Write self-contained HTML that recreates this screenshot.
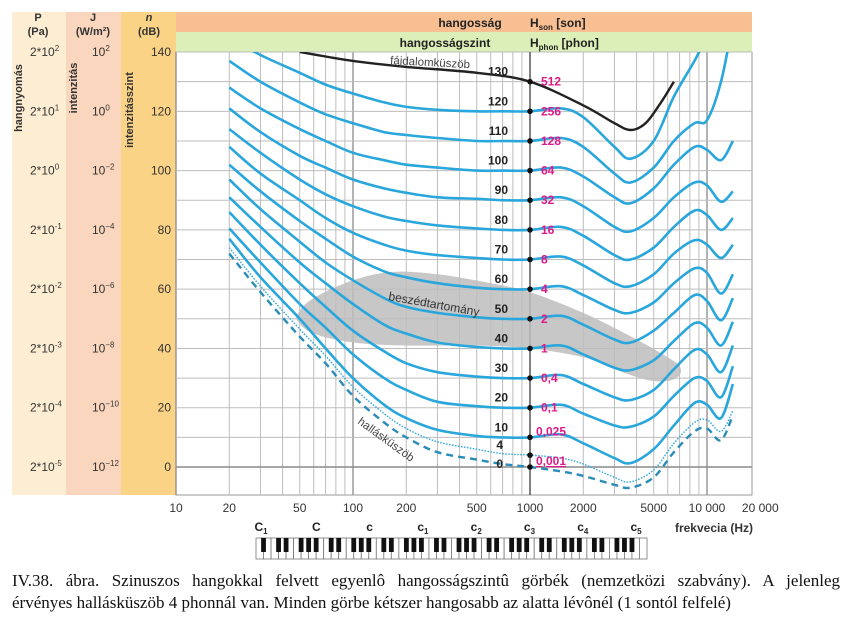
<!DOCTYPE html>
<html><head><meta charset="utf-8">
<style>
html,body{margin:0;padding:0;background:#fff;}
svg{display:block;font-family:"Liberation Sans",sans-serif;}
.cap{position:absolute;left:12px;width:828px;font-family:"Liberation Serif",serif;font-size:17px;color:#111;text-align:justify;text-align-last:justify;white-space:nowrap;}
</style></head>
<body>
<div style="position:relative;width:852px;height:640px;overflow:hidden">
<svg id="chart" width="852" height="640" viewBox="0 0 852 640"></svg>
<div class="cap" style="top:571px">IV.38. ábra. Szinuszos hangokkal felvett egyenlô hangosságszintû görbék (nemzetközi szabvány). A jelenleg</div>
<div class="cap" style="top:593px;text-align-last:left">érvényes hallásküszöb 4 phonnál van. Minden görbe kétszer hangosabb az alatta lévônél (1 sontól felfelé)</div>
</div>
<script>
// ---- data ----
const freqs = [20,30,50,70,100,150,200,300,500,700,1000,1500,2000,3000,3700,5000,6500,8500,10000,12000,14000];
const phonLevels = [120,110,100,90,80,70,60,50,40,30,20,10,4,0];
const curve120 = [145,139,133,129,126,123,121.5,120.5,120,120,120,121,118,108,104,110,125,137,145,150,155];
const curve110 = [137,130,123,119,116,113,112,111,110,110,110,111,108,99,96,101,110,116,117,130,150];
const curve100 = [128,121,114,110,106,103.5,102,101,100,100,100,101,98,91,89,94,102,108,107,103.5,110];
const curve90  = [121,113,105,101,97,94,92.5,91,90.5,90,90,91,88,81,79.5,84,91,96,95,89.5,93];
const curve80  = [114,106,97,92,88,84.5,83,81.5,80.5,80,80,81,78,71.5,70,74,81,86.5,85,80,84];
const curve70  = [108,99,90,84,79,75,73,71.5,70.5,70,70,71,68,62,61,65,72,76.5,75,70.5,75];
const curve60  = [102,93,83,77,71,66,64,62,60.5,60,60,61,58,53,52,55.5,62,67,65.5,58.5,65];
const curve50  = [97,87,76,69,63,57,54,52,50.5,50,50,51,48,43,42,46,52,58,56,49.5,57];
const curve40  = [91,81,69,62,55,48,45,42,40.5,40,40,41,38,33.5,32.7,36,42.5,48.5,47,41,49];
const curve30  = [86,75,62,54,46,39,35,32,30.5,30,30,31,28,23.5,22.6,26,33,39.5,38,32,41];
const curve20  = [80.5,69,55,47,38,30,26,22,20.5,20,20,21,18,14,13.6,17,24,30,29,23.5,34];
const curve10  = [77,64,50,40,30,21,16.5,12.5,10.5,10,10,11,8,3,1.3,6,14,21.6,21,16.5,28];
const curve4   = [74,61,46.5,37.5,27,18,13,8.5,6,4.5,4,3,1,-3.5,-5,-1,8,15,15.9,12,19];
const curve0   = [72,59,44,35,24,15,10,5,2.5,1,0,-1.5,-3,-6,-7,-3.5,5,12,13,9,17.5];
const painFreqs = [50,70,100,200,500,1000,2000,3000,3700,4500,5500,6500];
const painLevels = [140,138.5,137,135,133,130,122,116,113.7,116,123,130];
const speechTopF = [49,60,100,166,300,600,1000,2000,4000,6000,7000];
const speechTopDb = [52,57,63,65.8,65,62,59,52,43,37,34];
const speechBotF = [7000,6000,4500,3000,2000,1000,500,200,100,60,49];
const speechBotDb = [31,29,29.5,33,37,40,41,41,42,45,49];
const phonLabels = ["120","110","100","90","80","70","60","50","40","30","20","10","4","0"];
const soneLabels = ["256","128","64","32","16","8","4","2","1","0,4","0,1","0,025","","0,001"];
const xTickValues = [10,20,50,100,200,500,1000,2000,5000,10000,20000];
const xTickLabels = ["10","20","50","100","200","500","1000","2000","5000","10 000","20 000"];
const dbTicks = [140,120,100,80,60,40,20,0];
const pTickExp = ["2","1","0","-1","-2","-3","-4","-5"];
const jTickExp = ["2","0","-2","-4","-6","-8","-10","-12"];
const noteNames = [["C","1"],["C",""],["c",""],["c","1"],["c","2"],["c","3"],["c","4"],["c","5"]];
const noteFreqs = [32.7,65.4,130.8,261.6,523.3,1046.5,2093,4186];

// ---- scales ----
const PL=176, PT=52, PR=752, PB=495;
const xS = f => 176 + 177*Math.log10(f/10);
const yS = db => 467 - 2.964*db;
const NS="http://www.w3.org/2000/svg";
const svg=document.getElementById('chart');
function mk(tag, attrs, parent){const e=document.createElementNS(NS,tag);for(const k in attrs)e.setAttribute(k,attrs[k]);(parent||svg).appendChild(e);return e;}
function txt(str, attrs, parent){const e=mk('text',attrs,parent);e.textContent=str;return e;}
function smooth(pts, closed){
  const n=pts.length; let d='M'+pts[0][0].toFixed(1)+','+pts[0][1].toFixed(1);
  const g=i=> closed ? pts[(i+n)%n] : pts[Math.max(0,Math.min(n-1,i))];
  const m = closed ? n : n-1;
  for(let i=0;i<m;i++){const p0=g(i-1),p1=g(i),p2=g(i+1),p3=g(i+2);
    const c1=[p1[0]+(p2[0]-p0[0])/6,p1[1]+(p2[1]-p0[1])/6];
    const c2=[p2[0]-(p3[0]-p1[0])/6,p2[1]-(p3[1]-p1[1])/6];
    d+='C'+c1[0].toFixed(1)+','+c1[1].toFixed(1)+' '+c2[0].toFixed(1)+','+c2[1].toFixed(1)+' '+p2[0].toFixed(1)+','+p2[1].toFixed(1);}
  return d+(closed?'Z':'');
}

let r;
r=mk('rect',{x:12,y:12,width:54,height:483,fill:'#fdeed3'});
 
r=mk('rect',{x:66,y:12,width:55,height:483,fill:'#f9d6bd'});
 
r=mk('rect',{x:121,y:12,width:55,height:483,fill:'#fbd387'});
 
r=mk('rect',{x:176,y:12,width:576,height:20,fill:'#f8bf92'});
 
r=mk('rect',{x:176,y:32,width:576,height:20,fill:'#dcefb8'});
 

let t;
t=txt('hangosság',{x:470,y:27,'font-size':12,'font-weight':'bold','text-anchor':'middle',fill:'#222'});
 
t=mk('text',{x:530,y:27,'font-size':12,'font-weight':'bold',fill:'#222'});
t.innerHTML='H<tspan font-size="8" dy="3">son</tspan><tspan dy="-3"> [son]</tspan>';
 
t=txt('hangosságszint',{x:445,y:47,'font-size':12,'font-weight':'bold','text-anchor':'middle',fill:'#222'});
 
t=mk('text',{x:530,y:47,'font-size':12,'font-weight':'bold',fill:'#222'});
t.innerHTML='H<tspan font-size="8" dy="3">phon</tspan><tspan dy="-3"> [phon]</tspan>';
 

[['P','(Pa)',38],['J','(W/m²)',93],['n','(dB)',149]].forEach((h,i)=>{
  t=txt(h[0],{x:h[2],y:21,'font-size':11,'font-weight':'bold','text-anchor':'middle',fill:'#333','font-style':i==2?'italic':'normal'});
   
  t=txt(h[1],{x:h[2],y:35,'font-size':11,'font-weight':'bold','text-anchor':'middle',fill:'#333'});
   
});
[['hangnyomás',22,98],['intenzitás',77,88],['intenzitásszint',133,110]].forEach(v=>{
  t=txt(v[0],{x:0,y:0,'font-size':11,'font-weight':'bold','text-anchor':'middle',fill:'#333',transform:`translate(${v[1]},${v[2]}) rotate(-90)`});
   
});
dbTicks.forEach((db,i)=>{
  const y=yS(db)+4;
  t=txt(String(db),{x:171,y:y,'font-size':12,'text-anchor':'end',fill:'#333'});
   
  t=mk('text',{x:30,y:y,'font-size':12,fill:'#333'});
  t.innerHTML='2*10<tspan font-size="8" dy="-5">'+pTickExp[i]+'</tspan>';
   
  t=mk('text',{x:92,y:y,'font-size':12,fill:'#333'});
  t.innerHTML='10<tspan font-size="8" dy="-5">'+jTickExp[i].replace('-','−')+'</tspan>';
   
});

r=mk('rect',{x:PL,y:PT,width:PR-PL,height:PB-PT,fill:'#fff',stroke:'#999','stroke-width':1});
 
const defs=mk('defs',{});
const cp=mk('clipPath',{id:'clip'},defs); mk('rect',{x:PL,y:PT,width:PR-PL,height:PB-PT},cp);
const grid=mk('g',{});  
[10,100,1000,10000].forEach(dec=>{for(let m=1;m<10;m++){const x=xS(dec*m); if(x>PR-1)continue;
  const l=mk('line',{x1:x,x2:x,y1:PT,y2:PB,stroke:m==1?'#8a8a8a':'#bdbdbd','stroke-width':m==1?1.3:1},grid);
   }});
for(let db=0;db<=140;db+=10){const y=yS(db);
  const l=mk('line',{x1:PL,x2:PR,y1:y,y2:y,stroke:db==0?'#8a8a8a':'#bdbdbd','stroke-width':db==0?1.5:1},grid);
   }
const l1k=mk('line',{x1:xS(1000),x2:xS(1000),y1:PT,y2:PB,stroke:'#444','stroke-width':1.2},grid);
 

const sp=[]; speechTopF.forEach((f,i)=>sp.push([xS(f),yS(speechTopDb[i])])); speechBotF.forEach((f,i)=>sp.push([xS(f),yS(speechBotDb[i])]));
const spe=mk('path',{d:smooth(sp,true),fill:'#bdbdbd','fill-opacity':0.85});
 

const curves=[curve120,curve110,curve100,curve90,curve80,curve70,curve60,curve50,curve40,curve30,curve20,curve10,curve4,curve0];
const cg=mk('g',{'clip-path':'url(#clip)'});
 
curves.forEach((c,i)=>{
  const pts=freqs.map((f,j)=>[xS(f),yS(c[j])]);
  const lvl=phonLevels[i];
  const a={d:smooth(pts,false),fill:'none',stroke:'#29a6db','stroke-width':2.6,'stroke-linejoin':'round'};
  if(lvl==4){a['stroke-width']=1.4;a['stroke-dasharray']='1.5 1.5';}
  if(lvl==0){a['stroke']='#2a8cb8';a['stroke-width']=2.4;a['stroke-dasharray']='7 5';}
  const p=mk('path',a,cg);
   
});
const pain=mk('path',{d:smooth(painFreqs.map((f,j)=>[xS(f),yS(painLevels[j])]),false),fill:'none',stroke:'#222','stroke-width':2.4},cg);
 

const x1=xS(1000);
const allL=[130].concat(phonLevels); const allP=["130"].concat(phonLabels); const allS=["512"].concat(soneLabels);
allL.forEach((lvl,i)=>{
  const y=yS(lvl);
  const d=mk('circle',{cx:x1,cy:y,r:2.8,fill:'#111'});
   
  let py=y-6, px=508;
  if(lvl==4){py=y-6;px=503;} if(lvl==0){py=y+1;px=503;}
  t=txt(allP[i],{x:px,y:py,'font-size':12,'font-weight':'bold','text-anchor':'end',fill:'#222'});
   
  if(allS[i]){
    t=txt(allS[i],{x:lvl<=10?536:541,y:y+(lvl<=10?-2:4),'font-size':12,'font-weight':'bold',fill:'#e0198a','text-decoration':lvl==0?'underline':'none'});
     
  }
});
t=txt('fájdalomküszöb',{x:390,y:64,'font-size':11.5,fill:'#444',transform:'rotate(3 390 64)'});
 
t=txt('beszédtartomány',{x:388,y:300,'font-size':12,fill:'#333',transform:'rotate(10 388 300)'});
 
t=txt('hallásküszöb',{x:357,y:423,'font-size':11.5,fill:'#444',transform:'rotate(36 357 423)'});
 

xTickValues.forEach((f,i)=>{
  t=txt(xTickLabels[i],{x:xS(f),y:512,'font-size':12,'text-anchor':'middle',fill:'#333'});
   
});
t=txt('frekvecia (Hz)',{x:714,y:532,'font-size':12,'font-weight':'bold','text-anchor':'middle',fill:'#333'});
 

noteNames.forEach((n,i)=>{
  const x=xS(noteFreqs[i])-4+ (i==0?-2:0);
  t=mk('text',{x:x,y:531,'font-size':12,'font-weight':'bold','text-anchor':'middle',fill:'#222'});
  t.innerHTML=n[0]+(n[1]?'<tspan font-size="8" dy="3">'+n[1]+'</tspan>':'');
   
});
const kb=mk('g',{});  
const KX=256, KW=(647-256)/52, KY=538, KH=21;
for(let i=0;i<52;i++){const k=mk('rect',{x:KX+i*KW,y:KY,width:KW,height:KH,fill:'#fff',stroke:'#777','stroke-width':0.8},kb);
   }
const hasBlack=[1,0,1,1,0,1,1];
for(let i=0;i<51;i++){ if(hasBlack[i%7]){const k=mk('rect',{x:KX+(i+1)*KW-2.4,y:KY,width:4.8,height:14,fill:'#111'},kb);
   }}
</script>
</body></html>
